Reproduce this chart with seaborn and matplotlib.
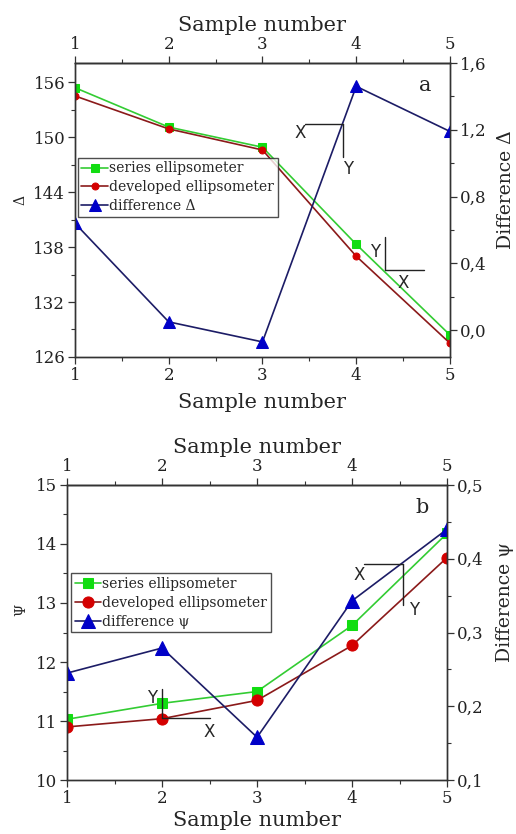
import numpy as np
import pandas as pd
import matplotlib
matplotlib.use("Agg")
import matplotlib.pyplot as plt
import seaborn as sns
from matplotlib.ticker import FixedLocator, MultipleLocator, FuncFormatter

sns.set_theme(style="ticks")
plt.rcParams["font.family"] = ["DejaVu Serif"]
plt.rcParams["mathtext.fontset"] = "dejavuserif"

# --- data -----------------------------------------------------------------
samples = [1, 2, 3, 4, 5]
delta_series = [155.4, 151.1, 148.9, 138.3, 128.4]
delta_developed = [154.5, 150.9, 148.6, 137.0, 127.5]
delta_diff = [0.64, 0.05, -0.07, 1.46, 1.19]

psi_series = [11.03, 11.30, 11.50, 12.62, 14.18]
psi_developed = [10.90, 11.04, 11.35, 12.28, 13.77]
psi_diff = [0.245, 0.279, 0.158, 0.343, 0.44]

labels_a = ["series ellipsometer", "developed ellipsometer", "difference Δ"]
labels_b = ["series ellipsometer", "developed ellipsometer", "difference ψ"]

GREEN_L, GREEN_M = "#33cc33", "#11dd11"
RED_L, RED_M = "#8b1a1a", "#d40000"
BLUE_L, BLUE_M = "#1c1c66", "#0000c8"
SPINE = "#333333"
comma = FuncFormatter(lambda v, p: f"{v:.1f}".replace(".", ","))

fig = plt.figure(figsize=(5.16, 8.34), dpi=100)


def style_axis(a):
    for s in a.spines.values():
        s.set_color(SPINE)
        s.set_linewidth(1.0)
    a.tick_params(which="major", direction="out", length=5, width=0.9,
                  colors=SPINE, labelcolor="#222222", labelsize=12, pad=2)
    a.tick_params(which="minor", direction="out", length=3, width=0.8, colors=SPINE)


def xy_marker(ax, hline, vline, xlab, ylab):
    # L-shaped "X / Y" guide drawn in axes fraction
    kw = dict(color="#222222", lw=1.0, transform=ax.transAxes, clip_on=False)
    ax.plot(hline[0], hline[1], **kw)
    ax.plot(vline[0], vline[1], **kw)
    ax.text(*xlab, "X", transform=ax.transAxes, fontsize=12,
            family="DejaVu Sans", ha="center", va="center")
    ax.text(*ylab, "Y", transform=ax.transAxes, fontsize=12,
            family="DejaVu Sans", ha="center", va="center")


def panel(rect, s1, s2, diff, labels, ylim, yticks, yminor, ylim2, yticks2,
          yminor2, ylab, ylab2, letter, ms, leg_anchor, guides, ylab_xy, ylab2_xy):
    ax = fig.add_axes(rect)
    tw = ax.twinx()
    df = pd.DataFrame({"x": samples, "s1": s1, "s2": s2, "d": diff})

    sns.lineplot(data=df, x="x", y="s1", ax=ax, color=GREEN_L, lw=1.2,
                 marker="s", markersize=ms[0], markerfacecolor=GREEN_M,
                 markeredgecolor=GREEN_M, label=labels[0])
    sns.lineplot(data=df, x="x", y="s2", ax=ax, color=RED_L, lw=1.2,
                 marker="o", markersize=ms[1], markerfacecolor=RED_M,
                 markeredgecolor=RED_M, label=labels[1])
    sns.lineplot(data=df, x="x", y="d", ax=tw, color=BLUE_L, lw=1.2,
                 marker="^", markersize=ms[2], markerfacecolor=BLUE_M,
                 markeredgecolor=BLUE_M, label=labels[2])

    h1, l1 = ax.get_legend_handles_labels()
    h2, l2 = tw.get_legend_handles_labels()
    ax.get_legend().remove()
    tw.get_legend().remove()
    leg = tw.legend(h1 + h2, l1 + l2, loc="upper left", bbox_to_anchor=leg_anchor,
                    borderaxespad=0, fontsize=10, frameon=True, fancybox=False,
                    handlelength=1.9, handletextpad=0.1, borderpad=0.25,
                    labelspacing=0.35)
    leg.get_frame().set_edgecolor("#222222")
    leg.get_frame().set_linewidth(1.0)

    ax.set_xlim(1, 5)
    ax.set_ylim(*ylim)
    tw.set_ylim(*ylim2)
    ax.xaxis.set_major_locator(FixedLocator(samples))
    ax.xaxis.set_minor_locator(MultipleLocator(0.5))
    ax.yaxis.set_major_locator(FixedLocator(yticks))
    ax.yaxis.set_minor_locator(MultipleLocator(yminor))
    tw.yaxis.set_major_locator(FixedLocator(yticks2))
    tw.yaxis.set_minor_locator(MultipleLocator(yminor2))
    tw.yaxis.set_major_formatter(comma)

    top = ax.secondary_xaxis("top")
    top.xaxis.set_major_locator(FixedLocator(samples))
    top.xaxis.set_minor_locator(MultipleLocator(0.5))
    for a in (ax, tw, top):
        style_axis(a)

    ax.set_xlabel("Sample number", fontsize=15)
    top.set_xlabel("Sample number", fontsize=15, labelpad=4)
    ax.set_ylabel(ylab, fontsize=10)
    ax.yaxis.set_label_coords(*ylab_xy)
    tw.set_ylabel(ylab2, fontsize=13.5)
    tw.yaxis.set_label_coords(*ylab2_xy)
    ax.text(0.935, 0.925, letter, transform=ax.transAxes, fontsize=15,
            ha="center", va="center")
    for g in guides:
        xy_marker(tw, *g)
    return ax


ax_a = panel([0.1453, 0.572, 0.7267, 0.3525],
             delta_series, delta_developed, delta_diff, labels_a,
             (126, 158.1), [126, 132, 138, 144, 150, 156], 3,
             (-0.16, 1.6), [0.0, 0.4, 0.8, 1.2, 1.6], 0.2,
             "Δ", "Difference Δ", "a", (6, 5, 8.5), (0.008, 0.677),
             [(([0.613, 0.715], [0.793, 0.793]), ([0.715, 0.715], [0.793, 0.680]),
               (0.60, 0.762), (0.728, 0.640)),
              (([0.827, 0.931], [0.296, 0.296]), ([0.827, 0.827], [0.408, 0.296]),
               (0.875, 0.250), (0.80, 0.357))],
             (-0.128, 0.534), (1.125, 0.568))
ax_a.xaxis.set_label_coords(0.5, -0.122)

ax_b = panel([0.130, 0.0647, 0.7364, 0.3538],
             psi_series, psi_developed, psi_diff, labels_b,
             (10, 15), [10, 11, 12, 13, 14, 15], 0.5,
             (0.1, 0.5), [0.1, 0.2, 0.3, 0.4, 0.5], 0.05,
             "Ψ", "Difference ψ", "b", (7, 8, 9.5), (0.0105, 0.70),
             [(([0.782, 0.885], [0.732, 0.732]), ([0.885, 0.885], [0.732, 0.593]),
               (0.769, 0.695), (0.913, 0.576)),
              (([0.249, 0.375], [0.210, 0.210]), ([0.249, 0.249], [0.308, 0.210]),
               (0.375, 0.163), (0.223, 0.278))],
             (-0.102, 0.576), (1.128, 0.603))
ax_b.xaxis.set_label_coords(0.5, -0.105)

fig.savefig("out.png", dpi=100)
